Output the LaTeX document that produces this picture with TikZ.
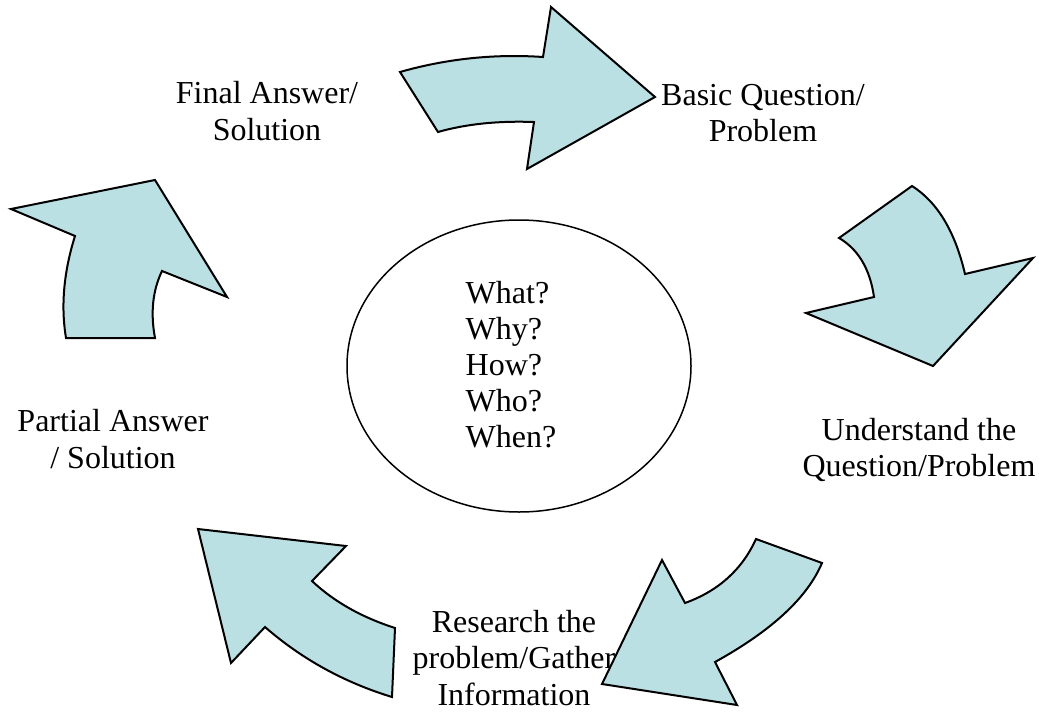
\documentclass[tikz,border=0pt]{standalone}
\usepackage{fontspec}
\setmainfont{Liberation Serif}
\usetikzlibrary{shapes.geometric}
\definecolor{arrowfill}{RGB}{187,224,227}

\tikzset{
  cyclearrow/.style={draw=black,fill=arrowfill,line width=1pt,line join=miter},
  steplabel/.style={align=center,inner sep=0pt,font=\fontsize{16}{18.4}\selectfont}
}

\begin{document}
\begin{tikzpicture}[x=0.5pt,y=-0.5pt]
  \useasboundingbox (0,0) rectangle (1039,712);

  % centre of the cycle
  \node at (519,366) [draw,ellipse,line width=0.75pt,minimum width=172pt,minimum height=146pt] (hub) {};
  \node at (511,365) [align=left,inner sep=0pt,font=\fontsize{16}{18}\selectfont] (questions) {
    What?\\
    Why?\\
    How?\\
    Who?\\
    When?
  };

  % the five steps
  \node at (763,113) [steplabel] (basic) {Basic Question/\\Problem};
  \node at (919,450) [steplabel] (understand) {Understand the\\Question/Problem};
  \node at (514,658) [steplabel] (research) {Research the\\problem/Gather\\Information};
  \node at (113,439) [steplabel] (partial) {Partial Answer\\/ Solution};
  \node at (267,111) [steplabel] (final) {Final Answer/\\Solution};

  % curved block arrows between the steps
  \draw[cyclearrow] (400,72) .. controls (446.7,58.7) and (494.3,53.7) .. (543,57) -- (551,7) -- (655,97)
    -- (527,169) -- (534,122) .. controls (498,120.7) and (466,124) .. (438,132) -- cycle;
  \draw[cyclearrow] (912,186) .. controls (937.3,202) and (955,231.3) .. (965,274) -- (1033,258) -- (933,366)
    -- (806,313) -- (874,297) .. controls (870,269) and (858.3,249.3) .. (839,238) -- cycle;
  \draw[cyclearrow] (756,539) -- (822,563) .. controls (807.3,597.7) and (771.7,630.7) .. (715,662) -- (737,705)
    -- (602,684) -- (662,560) -- (685,603) .. controls (718.3,591) and (742,569.7) .. cycle;
  \draw[cyclearrow] (198,529) -- (346,546) -- (312,581) .. controls (334,601.7) and (361.7,617.3) .. (395,628)
    -- (392,697) .. controls (344,682.3) and (301.7,659) .. (265,627) -- (231,663) -- cycle;
  \draw[cyclearrow] (11,209) -- (155,180) -- (227,297) -- (162,271) .. controls (152.7,290.3) and (150.3,312.7) .. (155,338)
    -- (66,338) .. controls (60.7,306) and (63.7,272) .. (75,236) -- cycle;
\end{tikzpicture}
\end{document}
